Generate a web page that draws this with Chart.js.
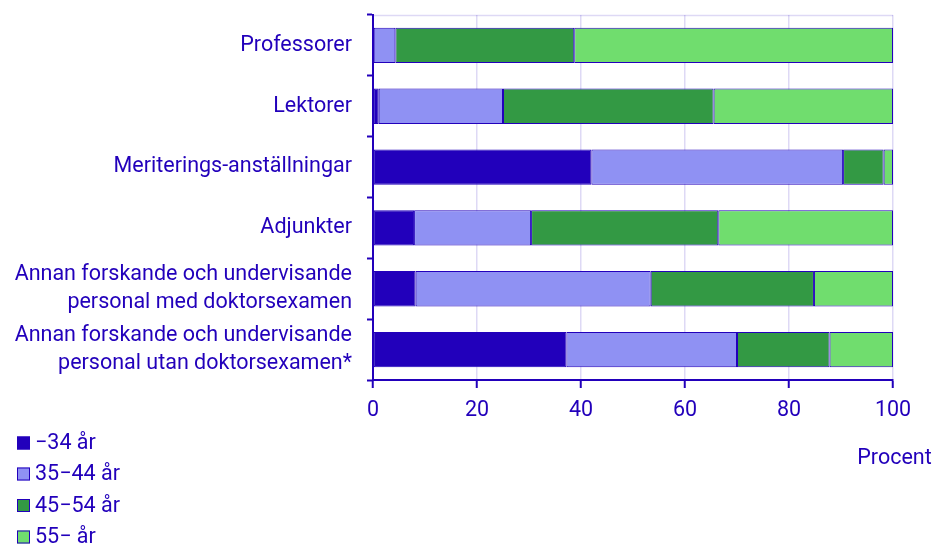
<!DOCTYPE html>
<html>
<head>
<meta charset="utf-8">
<script src="https://cdn.jsdelivr.net/npm/chart.js@4/dist/chart.umd.min.js"></script>
<style>
html,body{margin:0;padding:0;background:#fff;}
#wrap{width:933px;height:545px;position:relative;}
</style>
</head>
<body>
<div id="wrap"><canvas id="c" width="933" height="545"></canvas></div>
<script>
const categories = [
  "Professorer",
  "Lektorer",
  "Meriterings-anställningar",
  "Adjunkter",
  ["Annan forskande och undervisande", "personal med doktorsexamen"],
  ["Annan forskande och undervisande", "personal utan doktorsexamen*"]
];
const seriesNames = ["\u221234 år", "35\u221244 år", "45\u221254 år", "55\u2212 år"];
const age34 = [0, 1.1, 42.0, 7.9, 8.2, 37.2];
const age35_44 = [4.3, 23.9, 48.4, 22.5, 45.2, 32.8];
const age45_54 = [34.4, 40.5, 7.8, 36.0, 31.4, 17.8];
const age55 = [61.3, 34.5, 1.8, 33.6, 15.2, 12.2];
const xTicks = [0, 20, 40, 60, 80, 100];
const axisTitle = "Procent";

const INK = "#2200bb";
const GRID = "rgba(34,0,187,0.15)";
const colors = ["#2200bb", "#8f91f3", "#339944", "#70dd6e"];
const FONT = "Roboto, 'Noto Sans', sans-serif";
const LABEL_SIZE = 21.5;

const seriesValues = [age34, age35_44, age45_54, age55];
const datasets = seriesValues.map((v, i) => ({
  label: seriesNames[i],
  data: v,
  backgroundColor: colors[i],
  borderColor: INK,
  borderWidth: 1,
  borderSkipped: false,
  barPercentage: 0.58,
  categoryPercentage: 1.0
}));

const extras = {
  id: "extras",
  beforeDatasetsDraw(chart) {
    const ctx = chart.ctx, a = chart.chartArea;
    ctx.save();
    ctx.strokeStyle = GRID;
    ctx.lineWidth = 1.5;
    ctx.beginPath();
    ctx.moveTo(a.left, a.top + 0.5);
    ctx.lineTo(a.right, a.top + 0.5);
    ctx.stroke();
    ctx.restore();
  },
  afterDraw(chart) {
    const ctx = chart.ctx;
    ctx.save();
    ctx.font = LABEL_SIZE + "px " + FONT;
    ctx.fillStyle = INK;
    ctx.textBaseline = "middle";
    ctx.textAlign = "center";
    ctx.fillText(axisTitle, 894.5, 459);
    ctx.textAlign = "left";
    const rows = [443, 474, 505.5, 537];
    datasets.forEach((d, i) => {
      const y = rows[i];
      ctx.fillStyle = d.backgroundColor;
      ctx.fillRect(17, y - 6.5, 13, 13);
      ctx.strokeStyle = INK;
      ctx.lineWidth = 1;
      ctx.strokeRect(17.5, y - 6, 12, 12);
      ctx.fillStyle = INK;
      ctx.fillText(d.label, 35, y + 1);
    });
    ctx.restore();
  }
};

new Chart(document.getElementById("c"), {
  type: "bar",
  data: { labels: categories, datasets },
  options: {
    indexAxis: "y",
    responsive: false,
    maintainAspectRatio: false,
    animation: false,
    layout: { padding: { top: 15, right: 40, bottom: 100, left: 0 } },
    plugins: { legend: { display: false }, tooltip: { enabled: false } },
    scales: {
      x: {
        stacked: true,
        min: 0,
        max: 100,
        afterBuildTicks(axis) { axis.ticks = xTicks.map(v => ({ value: v })); },
        afterFit(scale) { scale.height = 65; scale.paddingLeft = 0; scale.paddingRight = 0; },
        grid: { color: GRID, lineWidth: 1.5, tickColor: INK, tickLength: 8, tickWidth: 2 },
        border: { color: INK, width: 2 },
        ticks: { color: INK, font: { family: FONT, size: LABEL_SIZE }, padding: 10, maxRotation: 0 }
      },
      y: {
        stacked: true,
        afterFit(scale) { scale.paddingTop = 0; scale.paddingBottom = 0; scale.width = 373; },
        grid: {
          offset: true,
          drawOnChartArea: false,
          tickColor: INK,
          tickLength: 6,
          tickWidth: 2
        },
        border: { color: INK, width: 2 },
        ticks: { autoSkip: false, color: INK, font: { family: FONT, size: LABEL_SIZE, lineHeight: 1.3 }, padding: 15 }
      }
    }
  },
  plugins: [extras]
});
</script>
</body>
</html>
